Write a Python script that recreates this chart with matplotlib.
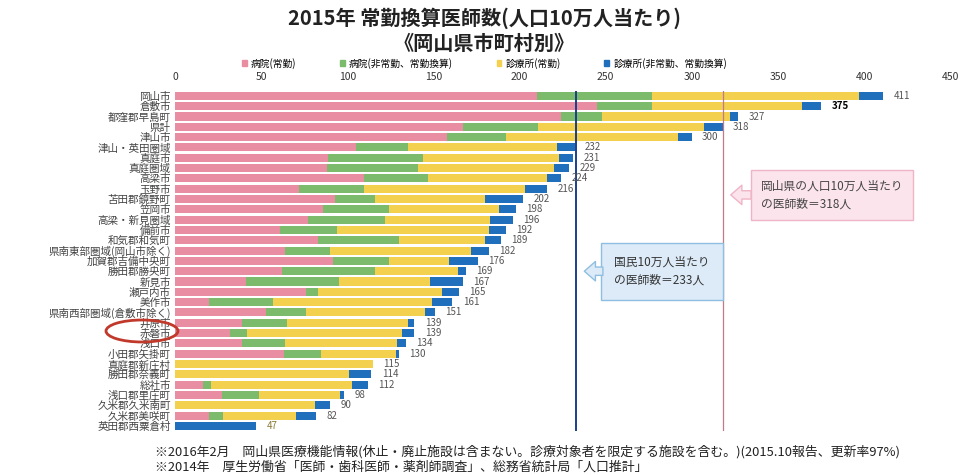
import matplotlib
matplotlib.use('Agg')
import matplotlib.pyplot as plt
from matplotlib.patches import Ellipse, Patch
import numpy as np

plt.rcParams['font.family'] = ['Noto Sans CJK JP', 'DejaVu Sans']

# 市町村と各区分の医師数(人口10万人当たり)
areas = ['岡山市', '倉敷市', '都窪郡早島町', '県計', '津山市', '津山・英田圏域', '真庭市', '真庭圏域',
         '高梁市', '玉野市', '苫田郡鏡野町', '笠岡市', '高梁・新見圏域', '備前市', '和気郡和気町',
         '県南東部圏域(岡山市除く)', '加賀郡吉備中央町', '勝田郡勝央町', '新見市', '瀬戸内市', '美作市',
         '県南西部圏域(倉敷市除く)', '井原市', '赤磐市', '浅口市', '小田郡矢掛町', '真庭郡新庄村',
         '勝田郡奈義町', '総社市', '浅口郡里庄町', '久米郡久米南町', '久米郡美咲町', '英田郡西粟倉村']
hosp_full = [210, 245, 224, 167, 158, 105, 89, 88, 110, 72, 93, 86, 77, 61, 83,
             64, 92, 62, 41, 76, 20, 53, 39, 32, 39, 63, 0, 0, 16, 27, 0, 20, 0]
hosp_part = [67, 32, 24, 44, 34, 30, 55, 53, 37, 38, 23, 38, 45, 33, 47,
             26, 32, 54, 54, 7, 37, 23, 26, 10, 25, 22, 0, 0, 5, 22, 0, 8, 0]
clinic_full = [120, 87, 74, 96, 100, 87, 79, 79, 69, 93, 64, 64, 61, 88, 50,
               82, 35, 48, 53, 72, 92, 69, 70, 90, 65, 43, 115, 101, 82, 47, 81, 42, 0]
clinic_part = [14, 11, 5, 11, 8, 10, 8, 9, 8, 13, 22, 10, 13, 10, 9,
               10, 17, 5, 19, 10, 12, 6, 4, 7, 5, 2, 0, 13, 9, 2, 9, 12, 47]
totals = [411, 375, 327, 318, 300, 232, 231, 229, 224, 216, 202, 198, 196, 192, 189,
          182, 176, 169, 167, 165, 161, 151, 139, 139, 134, 130, 115, 114, 112, 98, 90, 82, 47]
series_names = ['病院(常勤)', '病院(非常勤、常勤換算)', '診療所(常勤)', '診療所(非常勤、常勤換算)']
colors = ['#e98da3', '#7dbb6c', '#f4d04f', '#1f6fbd']

fig = plt.figure(figsize=(9.69, 4.75), dpi=100)
ax = fig.add_axes([0.1806, 0.0925, 0.8, 0.7165])

y = np.arange(len(areas))
left = np.zeros(len(areas))
for vals, c in zip([hosp_full, hosp_part, clinic_full, clinic_part], colors):
    ax.barh(y, vals, left=left, height=0.78, color=c)
    left += np.array(vals)

for i, t in enumerate(totals):
    col, fw = '#555555', 'normal'
    if t == 375:
        col, fw = 'black', 'bold'
    if t == 47:
        col = '#8a7a35'
    ax.text(left[i] + 6, i, str(t), va='center', ha='left', fontsize=7, color=col, fontweight=fw)

# 全国平均と県平均の線
ax.axvline(233, color='#1a3f8c', lw=1.4)
ax.axvline(318, color='#c27a8a', lw=0.9)

ax.set_xlim(0, 450)
ax.set_ylim(len(areas) - 0.5, -0.5)
ax.xaxis.tick_top()
ax.set_xticks(np.arange(0, 451, 50))
ax.tick_params(axis='x', length=0, labelsize=7.5, colors='#333333', pad=6)
ax.set_yticks(y)
ax.set_yticklabels(areas, fontsize=7.6, color='#444444')
ax.tick_params(axis='y', length=0, pad=3)
for s in ax.spines.values():
    s.set_visible(False)

# 吹き出し
ax.text(340, 9.6, '岡山県の人口10万人当たり\nの医師数＝318人', fontsize=8.5, color='#444444', va='center', ha='left',
        linespacing=1.5, bbox=dict(boxstyle='square,pad=0.8', fc='#fbe4ec', ec='#efb5c6', lw=1))
ax.annotate('', xy=(321, 9.6), xytext=(336, 9.6),
            arrowprops=dict(arrowstyle='simple,head_width=1.4,head_length=0.8,tail_width=0.6',
                            fc='#fbe4ec', ec='#efb5c6'))
ax.text(255, 17.0, '国民10万人当たり\nの医師数＝233人', fontsize=8.5, color='#333333', va='center', ha='left',
        linespacing=1.5, bbox=dict(boxstyle='square,pad=1.1', fc='#dcebf7', ec='#8fbfe0', lw=1))
ax.annotate('', xy=(236, 17.0), xytext=(250, 17.0),
            arrowprops=dict(arrowstyle='simple,head_width=1.4,head_length=0.8,tail_width=0.6',
                            fc='#dcebf7', ec='#8fbfe0'))

# 赤磐市の丸印
fig.patches.append(Ellipse((142 / 969, 1 - 331 / 475), 72 / 969, 22 / 475, transform=fig.transFigure,
                           fill=False, ec='#c0392b', lw=2))

handles = [Patch(color=c) for c in colors]
fig.legend(handles, series_names, loc='center', bbox_to_anchor=(0.5, 0.867), ncol=4, frameon=False,
           fontsize=7, handlelength=0.5, handleheight=0.5, columnspacing=4.5, handletextpad=0.4)

fig.text(0.5, 0.962, '2015年 常勤換算医師数(人口10万人当たり)', ha='center', va='center',
         fontsize=14.5, fontweight='bold', color='#222222')
fig.text(0.5, 0.908, '《岡山県市町村別》', ha='center', va='center',
         fontsize=14.5, fontweight='bold', color='#222222')

fig.text(0.16, 0.05, '※2016年2月　岡山県医療機能情報(休止・廃止施設は含まない。診療対象者を限定する施設を含む。)(2015.10報告、更新率97%)',
         fontsize=9.3, color='#222222', va='center')
fig.text(0.16, 0.017, '※2014年　厚生労働省「医師・歯科医師・薬剤師調査」、総務省統計局「人口推計」',
         fontsize=9.3, color='#222222', va='center')

fig.savefig('out.png', dpi=100)
plt.close(fig)
